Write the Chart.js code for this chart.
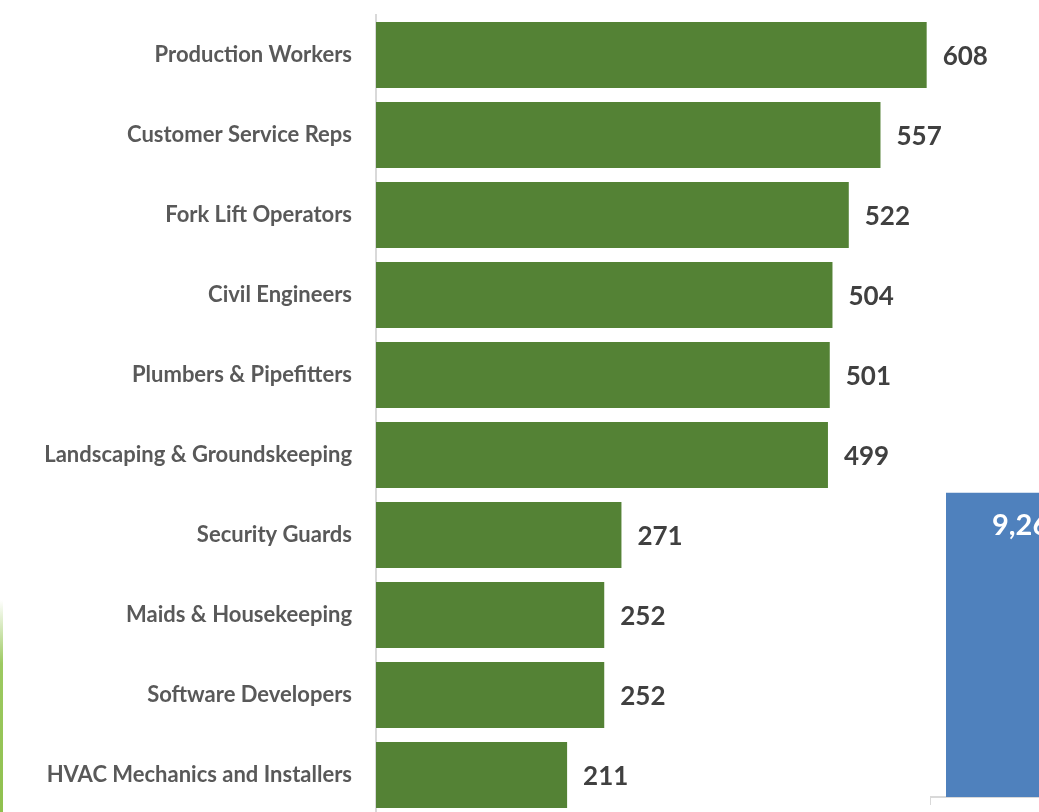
<!DOCTYPE html>
<html>
<head>
<meta charset="utf-8">
<script src="https://cdn.jsdelivr.net/npm/chart.js@4.4.1/dist/chart.umd.min.js"></script>
<style>
  html, body { margin: 0; padding: 0; width: 1039px; height: 812px; overflow: hidden; background: #ffffff; }
  #wrap1 { position: absolute; left: 0; top: 0; width: 1039px; height: 830px; }
  #wrap2 { position: absolute; left: 930px; top: 480px; width: 200px; height: 332px; }
  #edge { position: absolute; left: 0; top: 600px; width: 3px; height: 212px;
          background: linear-gradient(to bottom, rgba(146,196,80,0), rgba(146,196,80,0.9) 30%, #8fc04e); }
</style>
</head>
<body>
<div id="edge"></div>
<div id="wrap1"><canvas id="c1"></canvas></div>
<div id="wrap2"><canvas id="c2"></canvas></div>
<script>
const categories = [
  "Production Workers",
  "Customer Service Reps",
  "Fork Lift Operators",
  "Civil Engineers",
  "Plumbers & Pipefitters",
  "Landscaping & Groundskeeping",
  "Security Guards",
  "Maids & Housekeeping",
  "Software Developers",
  "HVAC Mechanics and Installers"
];
const jobCounts = [608, 557, 522, 504, 501, 499, 271, 252, 252, 211];

const sideCategories = ["Total"];
const sideValues = [9262];

const FONT = "Lato, 'Open Sans', sans-serif";

const valueLabels = {
  id: 'valueLabels',
  afterDatasetsDraw(chart, args, opts) {
    const ctx = chart.ctx;
    const meta = chart.getDatasetMeta(0);
    ctx.save();
    meta.data.forEach((el, i) => {
      const v = chart.data.datasets[0].data[i];
      const txt = v.toLocaleString('en-US');
      ctx.font = opts.font;
      ctx.fillStyle = opts.color;
      if (opts.mode === 'end') {
        ctx.textAlign = 'left';
        ctx.textBaseline = 'middle';
        ctx.fillText(txt, el.x + opts.offset, el.y + 2);
      } else {
        ctx.textAlign = 'left';
        ctx.textBaseline = 'top';
        ctx.fillText(txt, el.x - el.width / 2 + opts.offset, el.y + opts.top);
      }
    });
    ctx.restore();
  }
};

new Chart(document.getElementById('c1'), {
  type: 'bar',
  data: {
    labels: categories,
    datasets: [{
      data: jobCounts,
      backgroundColor: '#548235',
      borderWidth: 0,
      barPercentage: 0.825,
      categoryPercentage: 1.0
    }]
  },
  options: {
    indexAxis: 'y',
    responsive: true,
    maintainAspectRatio: false,
    animation: false,
    layout: { padding: { top: 15, bottom: 15, left: 0, right: 29 } },
    plugins: {
      legend: { display: false },
      tooltip: { enabled: false },
      valueLabels: { mode: 'end', offset: 16, font: "bold 26px " + FONT, color: '#404040' }
    },
    scales: {
      x: { display: false, min: 0, max: 700 },
      y: {
        afterFit(s) { s.width = 376; s.paddingTop = 0; s.paddingBottom = 0; },
        grid: { display: false, drawTicks: false },
        border: { display: true, color: '#d9d9d9', width: 2 },
        ticks: { padding: 24, color: '#595959', font: { family: FONT, size: 22, weight: 'bold' } }
      }
    }
  },
  plugins: [valueLabels]
});

new Chart(document.getElementById('c2'), {
  type: 'bar',
  data: {
    labels: sideCategories,
    datasets: [{
      data: sideValues,
      backgroundColor: '#4f81bd',
      borderWidth: 0,
      barPercentage: 0.84,
      categoryPercentage: 1.0
    }]
  },
  options: {
    responsive: true,
    maintainAspectRatio: false,
    animation: false,
    layout: { padding: { top: 0, bottom: 0, left: 0, right: 0 } },
    plugins: {
      legend: { display: false },
      tooltip: { enabled: false },
      valueLabels: { mode: 'top', offset: 46, top: 18, font: "bold 29px " + FONT, color: '#ffffff' }
    },
    scales: {
      y: { display: false, min: 0, max: 9650 },
      x: {
        afterFit(s) { s.height = 15; },
        grid: { display: true, drawOnChartArea: false, tickLength: 8, color: '#d9d9d9', offset: true },
        border: { display: true, color: '#d9d9d9', width: 2 },
        ticks: { display: false }
      }
    }
  },
  plugins: [valueLabels]
});
</script>
</body>
</html>
